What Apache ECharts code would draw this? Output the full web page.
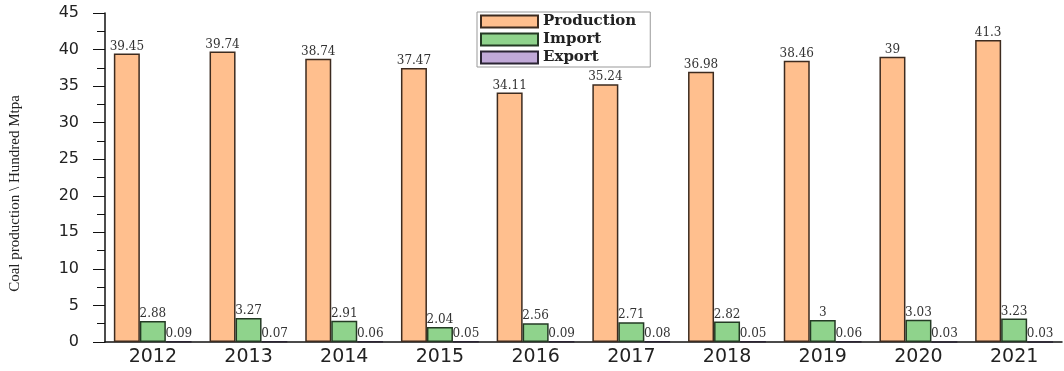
<!DOCTYPE html>
<html>
<head>
<meta charset="utf-8">
<script src="https://cdn.jsdelivr.net/npm/echarts@6/dist/echarts.min.js"></script>
<style>
  html, body { margin: 0; padding: 0; background: #fff; }
  #chart { width: 1064px; height: 371px; }
</style>
</head>
<body>
<div id="chart"></div>
<script>
var years = ['2012', '2013', '2014', '2015', '2016', '2017', '2018', '2019', '2020', '2021'];
var production = [39.45, 39.74, 38.74, 37.47, 34.11, 35.24, 36.98, 38.46, 39, 41.3];
var imports = [2.88, 3.27, 2.91, 2.04, 2.56, 2.71, 2.82, 3, 3.03, 3.23];
var exports_ = [0.09, 0.07, 0.06, 0.05, 0.09, 0.08, 0.05, 0.06, 0.03, 0.03];
var yTicks = { min: 0, max: 45, interval: 5 };

var labelStyle = {
    show: true,
    position: 'top',
    distance: 1,
    color: '#333',
    fontFamily: 'DejaVu Serif',
    fontSize: 12
};

function barSeries(name, data, color, border) {
    return {
        name: name,
        type: 'bar',
        data: data,
        barWidth: 26,
        barGap: '0%',
        itemStyle: { color: color, borderColor: border, borderWidth: 1.5 },
        label: labelStyle
    };
}

var option = {
    animation: false,
    backgroundColor: '#fff',
    grid: { left: 105, right: 2, top: 13, bottom: 29 },
    legend: {
        orient: 'vertical',
        left: 477,
        top: 12,
        icon: 'rect',
        itemWidth: 57,
        itemHeight: 12,
        itemGap: 3,
        padding: [2, 14, 2, 3],
        borderColor: '#999',
        borderWidth: 1,
        backgroundColor: '#fff',
        textStyle: { fontFamily: 'DejaVu Serif', fontWeight: 'bold', fontSize: 15, color: '#222' },
        data: ['Production', 'Import', 'Export']
    },
    xAxis: {
        type: 'category',
        data: years,
        axisLine: { lineStyle: { color: '#111', width: 1.5 } },
        axisTick: { alignWithLabel: true, length: 4, lineStyle: { color: '#111' } },
        axisLabel: { fontFamily: 'DejaVu Sans', fontSize: 19, color: '#222', margin: 6 }
    },
    yAxis: {
        type: 'value',
        min: yTicks.min,
        max: yTicks.max,
        interval: yTicks.interval,
        name: 'Coal production \\ Hundred Mtpa',
        nameLocation: 'middle',
        nameGap: 82,
        nameTextStyle: { fontFamily: 'Liberation Serif', fontSize: 15, color: '#222', padding: [0, 32, 0, 0] },
        axisLine: { show: true, lineStyle: { color: '#111', width: 1.5 } },
        axisTick: { show: true, length: 12, lineStyle: { color: '#111' } },
        minorTick: { show: true, splitNumber: 2, length: 8, lineStyle: { color: '#111' } },
        splitLine: { show: false },
        axisLabel: { fontFamily: 'DejaVu Sans', fontSize: 16, color: '#222', margin: 26 }
    },
    series: [
        barSeries('Production', production, '#FFBF8E', '#3d2b1f'),
        barSeries('Import', imports, '#8FD38C', '#243a24'),
        barSeries('Export', exports_, '#C1A9D8', '#2a2433')
    ]
};

var myChart = echarts.init(document.getElementById('chart'));
myChart.setOption(option);
</script>
</body>
</html>
